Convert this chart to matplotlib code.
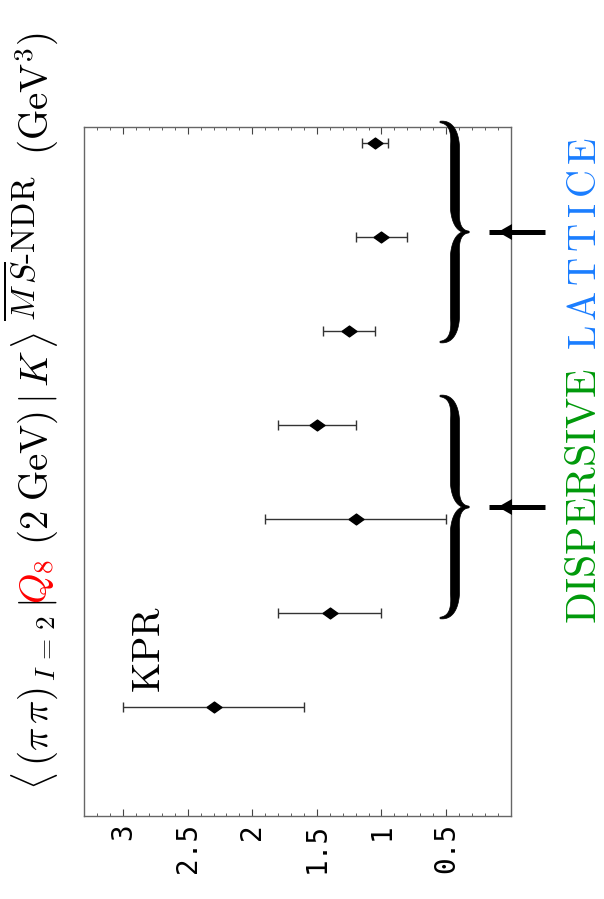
import numpy as np
import matplotlib
matplotlib.use('Agg')
import matplotlib.pyplot as plt
from matplotlib.patches import Polygon
from matplotlib.ticker import MultipleLocator

plt.rcParams['mathtext.fontset'] = 'cm'

# matrix element values (GeV^3), bottom to top: KPR, 3 dispersive, 3 lattice
values = [2.3, 1.4, 1.2, 1.5, 1.25, 1.0, 1.05]
errors = [0.7, 0.4, 0.7, 0.3, 0.2, 0.2, 0.1]
positions = [1, 2, 3, 4, 5, 6, 7]
xticks = [3, 2.5, 2, 1.5, 1, 0.5]
xtick_labels = ['3', '2.5', '2', '1.5', '1', '0.5']

fig = plt.figure(figsize=(6.04, 8.99), dpi=100)
ax = fig.add_axes([0.1396, 0.0923, 0.7059, 0.7659])

diamond = [(-1, 0), (0, 0.72), (1, 0), (0, -0.72), (-1, 0)]
ax.errorbar(values, positions, xerr=errors, fmt='none', ecolor='#333333',
            elinewidth=1, capsize=3.25, capthick=1)
ax.plot(values, positions, ls='none', marker=diamond, ms=10.8, color='black')

ax.set_xlim(3.3, 0)
ax.set_ylim(-0.16, 7.17)
ax.set_xticks(xticks)
ax.set_xticklabels(xtick_labels, fontfamily='DejaVu Sans Mono', fontsize=20, rotation=90)
ax.xaxis.set_minor_locator(MultipleLocator(0.1))
ax.tick_params(axis='x', which='both', direction='in', top=True, bottom=True, pad=5)
ax.tick_params(axis='x', which='major', length=5, color='#444444')
ax.tick_params(axis='x', which='minor', length=2.5, color='#444444')
ax.set_yticks([])
for s in ax.spines.values():
    s.set_color('#666666')
    s.set_linewidth(1)

# overlay in pixel coords (y down) for the text and the braces
ov = fig.add_axes([0, 0, 1, 1], zorder=5)
ov.set_xlim(0, 604)
ov.set_ylim(899, 0)
ov.axis('off')

# title, drawn upwards in pieces: (text, colour, start y, baseline x, size)
pieces = [(r'$\langle\,(\pi\,\pi)_{\,I\,=\,2}\,|$', 'black', 790, 48, 28),
          (r'$Q_8$', 'red', 604, 48, 28),
          (r'$(2\;\mathrm{GeV})\,|\,K\,\rangle$', 'black', 545, 48, 28),
          (r'$\overline{M\,S}\text{-NDR}$', 'black', 321, 35, 24),
          (r'$(\mathrm{GeV}^3)$', 'black', 155, 48, 28)]
for s, c, y, x, fs in pieces:
    ov.text(x, y, s, color=c, fontsize=fs, rotation=90, rotation_mode='anchor',
            ha='left', va='baseline')

ov.text(160, 693, r'$\mathrm{KPR}$', fontsize=28, rotation=90, rotation_mode='anchor',
        ha='left', va='baseline')
ov.text(596, 243, r'$\mathrm{L\,A\,T\,T\,I\,C\,E}$', fontsize=28, color='#1a7dff',
        rotation=90, rotation_mode='anchor', ha='center', va='baseline')
ov.text(596, 496, r'$\mathrm{DISPERSIVE}$', fontsize=30, color='#00990a', rotation=90,
        rotation_mode='anchor', ha='center', va='baseline')


def qb(p0, p1, p2, n=30):
    t = np.linspace(0, 1, n)[:, None]
    return (1 - t) ** 2 * np.array(p0) + 2 * (1 - t) * t * np.array(p1) + t ** 2 * np.array(p2)


def stroke(pts, w):
    d = np.gradient(pts, axis=0)
    n = np.column_stack([-d[:, 1], d[:, 0]])
    n /= np.linalg.norm(n, axis=1)[:, None]
    left = pts + n * w[:, None] / 2
    right = pts - n * w[:, None] / 2
    return np.vstack([left, right[::-1]])


def brace(ytop, ybot, xl=440, xs=455, xt=469, c=24, wmin=1.5, wmax=9):
    ym = (ytop + ybot) / 2
    a = qb((xl, ytop), (xs, ytop), (xs, ytop + c))
    b = np.column_stack([np.full(20, xs), np.linspace(ytop + c, ym - c, 20)])
    cc = qb((xs, ym - c), (xs, ym), (xt, ym))
    pts = np.vstack([a, b[1:], cc[1:]])
    w = np.concatenate([np.linspace(wmin, wmax, len(a)), np.full(len(b) - 1, wmax),
                        np.linspace(wmax, wmin, len(cc) - 1)])
    for half in (pts, np.column_stack([pts[:, 0], 2 * ym - pts[:, 1]])):
        ov.add_patch(Polygon(stroke(half, w), closed=True, fc='black', ec='black', lw=0.5))
    # arrow pointing at the brace
    ov.plot([489, 545], [ym, ym], color='black', lw=3.6, solid_capstyle='butt')
    ov.add_patch(Polygon([(498, ym), (512, ym - 8), (512, ym + 8)], closed=True, fc='black'))


brace(122, 342)
brace(396, 618)

fig.savefig('out.png', dpi=100)
